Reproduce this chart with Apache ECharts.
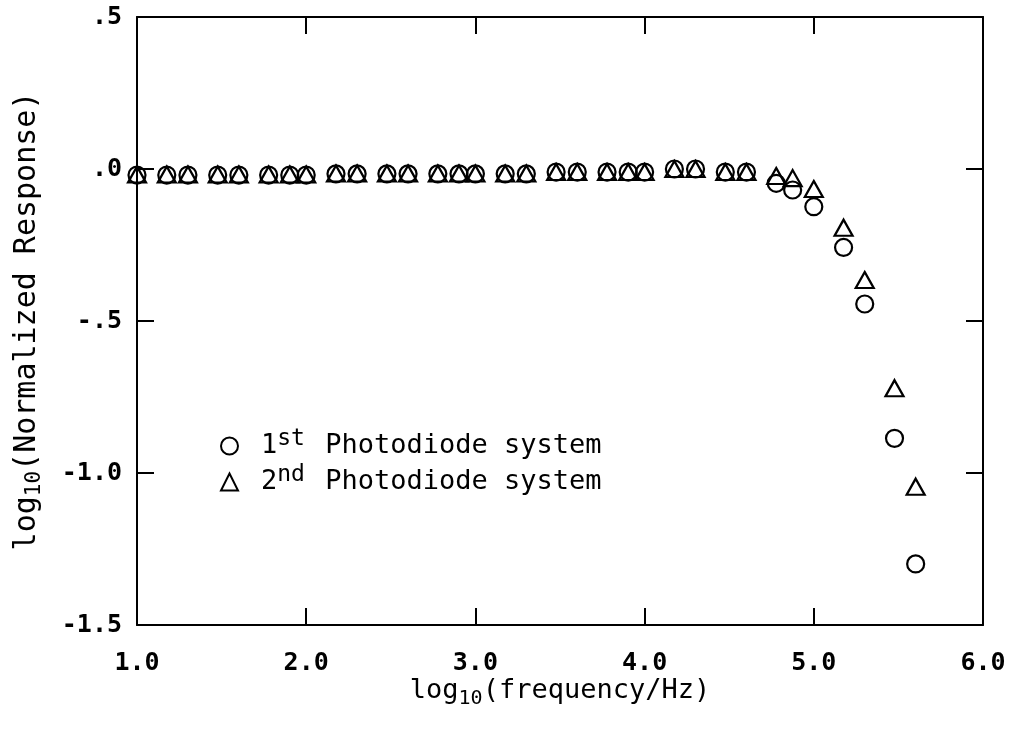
<!DOCTYPE html>
<html>
<head>
<meta charset="utf-8">
<script src="https://cdn.jsdelivr.net/npm/echarts@6/dist/echarts.min.js"></script>
<style>
  html, body { margin: 0; padding: 0; background: #fff; }
  #chart { width: 1011px; height: 734px; }
</style>
</head>
<body>
<div id="chart"></div>
<script>
// log10 of the measurement frequencies (Hz)
const logFreq = [
  1.000, 1.176, 1.301, 1.477, 1.602, 1.778, 1.903, 2.000,
  2.176, 2.301, 2.477, 2.602, 2.778, 2.903, 3.000,
  3.176, 3.301, 3.477, 3.602, 3.778, 3.903, 4.000,
  4.176, 4.301, 4.477, 4.602, 4.778, 4.875, 5.000,
  5.176, 5.301, 5.477, 5.602
];

// log10 of the normalized response, 1st photodiode system (circles)
const firstSystem = [
  -0.020, -0.020, -0.020, -0.020, -0.020, -0.020, -0.020, -0.020,
  -0.016, -0.016, -0.016, -0.016, -0.016, -0.016, -0.016,
  -0.016, -0.016, -0.010, -0.010, -0.010, -0.010, -0.010,
  0.000, 0.000, -0.010, -0.010, -0.047, -0.069, -0.124,
  -0.258, -0.444, -0.886, -1.299
];

// log10 of the normalized response, 2nd photodiode system (triangles)
const secondSystem = [
  -0.018, -0.018, -0.018, -0.018, -0.018, -0.018, -0.018, -0.018,
  -0.015, -0.015, -0.015, -0.015, -0.015, -0.015, -0.015,
  -0.015, -0.015, -0.010, -0.010, -0.010, -0.010, -0.010,
  0.000, 0.000, -0.010, -0.010, -0.023, -0.030, -0.066,
  -0.193, -0.365, -0.721, -1.045
];

const seriesNames = ['1st Photodiode system', '2nd Photodiode system'];

// y tick values and the labels printed beside them
const yTickValues = [-1.5, -1.0, -0.5, 0.0, 0.5];
const yTickLabels = ['-1.5', '-1.0', '-.5', '.0', '.5'];

const FONT = '"DejaVu Sans Mono", monospace';
const INK = '#000';

function yLabel(v) {
  const i = yTickValues.findIndex(t => Math.abs(t - v) < 1e-9);
  return i >= 0 ? yTickLabels[i] : '';
}

const markerStyle = {
  color: 'rgba(0,0,0,0)',
  borderColor: INK,
  borderWidth: 2.2,
  opacity: 1
};

const tickStyle = { show: true, inside: true, length: 17, lineStyle: { color: INK, width: 2 } };
const lineStyle = { show: true, onZero: false, lineStyle: { color: INK, width: 2 } };

const tickFont = { fontFamily: FONT, fontSize: 25, fontWeight: 'bold', color: INK };

const chart = echarts.init(document.getElementById('chart'), null, { renderer: 'canvas' });

chart.setOption({
  animation: false,
  backgroundColor: '#fff',
  grid: {
    left: 137, right: 28, top: 17, bottom: 109,
    containLabel: false,
    outerBoundsMode: 'none'
  },
  legend: {
    orient: 'vertical',
    left: 215,
    top: 423,
    itemGap: 0,
    itemWidth: 17,
    itemHeight: 17,
    selectedMode: false,
    data: [
      { name: seriesNames[0], icon: 'circle' },
      { name: seriesNames[1], icon: 'triangle' }
    ],
    formatter: name => name.replace(/^(\d)(st|nd)/, '$1{sup|$2}'),
    textStyle: {
      fontFamily: FONT,
      fontSize: 27,
      color: INK,
      lineHeight: 36,
      padding: [0, 0, 0, 18],
      rich: {
        sup: {
          fontFamily: FONT, fontSize: 23, color: INK,
          verticalAlign: 'top', lineHeight: 24, padding: [0, 4, 0, 0]
        }
      }
    }
  },
  xAxis: [
    {
      type: 'value',
      position: 'bottom',
      min: 1, max: 6, interval: 1,
      axisLine: lineStyle,
      axisTick: tickStyle,
      splitLine: { show: false },
      axisLabel: Object.assign({ margin: 26, formatter: v => v.toFixed(1) }, tickFont),
      name: 'log{sub|10}(frequency/Hz)',
      nameLocation: 'middle',
      nameGap: 48,
      nameMoveOverlap: false,
      nameTextStyle: {
        fontFamily: FONT, fontSize: 27, color: INK, lineHeight: 36,
        rich: {
          sub: { fontFamily: FONT, fontSize: 20, color: INK, verticalAlign: 'bottom', lineHeight: 20 }
        }
      }
    },
    {
      type: 'value',
      position: 'top',
      min: 1, max: 6, interval: 1,
      axisLine: lineStyle,
      axisTick: tickStyle,
      splitLine: { show: false },
      axisLabel: { show: false }
    }
  ],
  yAxis: [
    {
      type: 'value',
      position: 'left',
      min: -1.5, max: 0.5, interval: 0.5,
      axisLine: lineStyle,
      axisTick: tickStyle,
      splitLine: { show: false },
      axisLabel: Object.assign({ margin: 15, formatter: v => yLabel(v) }, tickFont),
      name: 'log{sub|10}(Normalized Response)',
      nameLocation: 'middle',
      nameGap: 92,
      nameRotate: 90,
      nameMoveOverlap: false,
      nameTextStyle: {
        fontFamily: FONT, fontSize: 30, color: INK, lineHeight: 36,
        rich: {
          sub: { fontFamily: FONT, fontSize: 21, color: INK, verticalAlign: 'bottom', lineHeight: 20 }
        }
      }
    },
    {
      type: 'value',
      position: 'right',
      min: -1.5, max: 0.5, interval: 0.5,
      axisLine: lineStyle,
      axisTick: tickStyle,
      splitLine: { show: false },
      axisLabel: { show: false }
    }
  ],
  series: [
    {
      name: seriesNames[0],
      type: 'scatter',
      symbol: 'circle',
      symbolSize: 17,
      itemStyle: markerStyle,
      emphasis: { disabled: true },
      data: logFreq.map((x, i) => [x, firstSystem[i]])
    },
    {
      name: seriesNames[1],
      type: 'scatter',
      symbol: 'triangle',
      symbolSize: [18, 16],
      itemStyle: markerStyle,
      emphasis: { disabled: true },
      data: logFreq.map((x, i) => [x, secondSystem[i]])
    }
  ]
});
</script>
</body>
</html>
